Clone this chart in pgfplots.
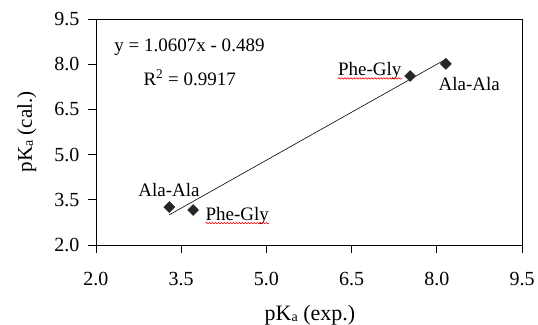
\documentclass[border=0pt]{standalone}
\usepackage{fontspec}
\setmainfont{Liberation Serif}
\usepackage{pgfplots}
\pgfplotsset{compat=1.18}
\usetikzlibrary{decorations.pathmorphing}
\begin{document}
\fontsize{19bp}{22bp}\selectfont
\begin{tikzpicture}
\begin{axis}[
  scale only axis,
  width=426bp, height=226bp,
  xmin=2, xmax=9.5, ymin=2, ymax=9.5,
  xtick={2,3.5,5,6.5,8,9.5},
  ytick={2,3.5,5,6.5,8,9.5},
  tick align=outside,
  xtick pos=left, ytick pos=left,
  major tick length=8bp,
  tick style={black, line width=0.9bp},
  axis line style={black, line width=0.9bp},
  /pgf/number format/assume math mode=true,
  /pgf/number format/.cd, fixed, fixed zerofill, precision=1, /pgfplots/.cd,
  ticklabel style={font=\fontsize{20bp}{23bp}\selectfont},
  xticklabel style={anchor=base, yshift=-32bp},
  yticklabel style={xshift=-2bp},
  clip=false,
]
\addplot[black, line width=0.6bp, forget plot] coordinates {(3.29,3.0007) (8.16,8.1663)};
\addplot[only marks, mark=square*, mark size=3.9bp, mark options={rotate=45, fill=black!85, draw=black!85}] coordinates {
  (3.29,3.26) (3.71,3.16) (7.53,7.61) (8.16,8.01)
};
\node[anchor=base] at (axis cs:3.646,8.415) {y = 1.0607x - 0.489};
\node[anchor=base] at (axis cs:3.65,7.277) {R\textsuperscript{2} = 0.9917};
\node[anchor=base, inner sep=0pt] (pg1) at (axis cs:6.82,7.61) {Phe-Gly};
\node[anchor=base, inner sep=0pt] at (axis cs:8.57,7.14) {Ala-Ala};
\node[anchor=base, inner sep=0pt] at (axis cs:3.285,3.60) {Ala-Ala};
\node[anchor=base, inner sep=0pt] (pg2) at (axis cs:4.488,2.81) {Phe-Gly};
\coordinate (sw) at (rel axis cs:0,0);
\coordinate (ne) at (rel axis cs:1,1);
\end{axis}
\draw[red, line width=0.6bp, decorate, decoration={snake, amplitude=0.7bp, segment length=3bp}]
  ([yshift=-2.5bp]pg1.base west) -- ([yshift=-2.5bp]pg1.base east);
\draw[red, line width=0.6bp, decorate, decoration={snake, amplitude=0.7bp, segment length=3bp}]
  ([yshift=-2.5bp]pg2.base west) -- ([yshift=-2.5bp]pg2.base east);
\node[anchor=base, inner sep=0pt] at ([xshift=214bp, yshift=-75bp]sw) {\fontsize{22bp}{25bp}\selectfont pK\raisebox{-0.1ex}{\fontsize{14bp}{16bp}\selectfont a} (exp.)};
\node[anchor=base, rotate=90, inner sep=0pt] at ([xshift=-64bp, yshift=113bp]sw) {\fontsize{21bp}{24bp}\selectfont pK\raisebox{-0.1ex}{\fontsize{14bp}{16bp}\selectfont a} (cal.)};
\pgfresetboundingbox
\useasboundingbox ([xshift=-96bp, yshift=-80bp]sw) rectangle ([xshift=16bp, yshift=19bp]ne);
\end{tikzpicture}
\end{document}
